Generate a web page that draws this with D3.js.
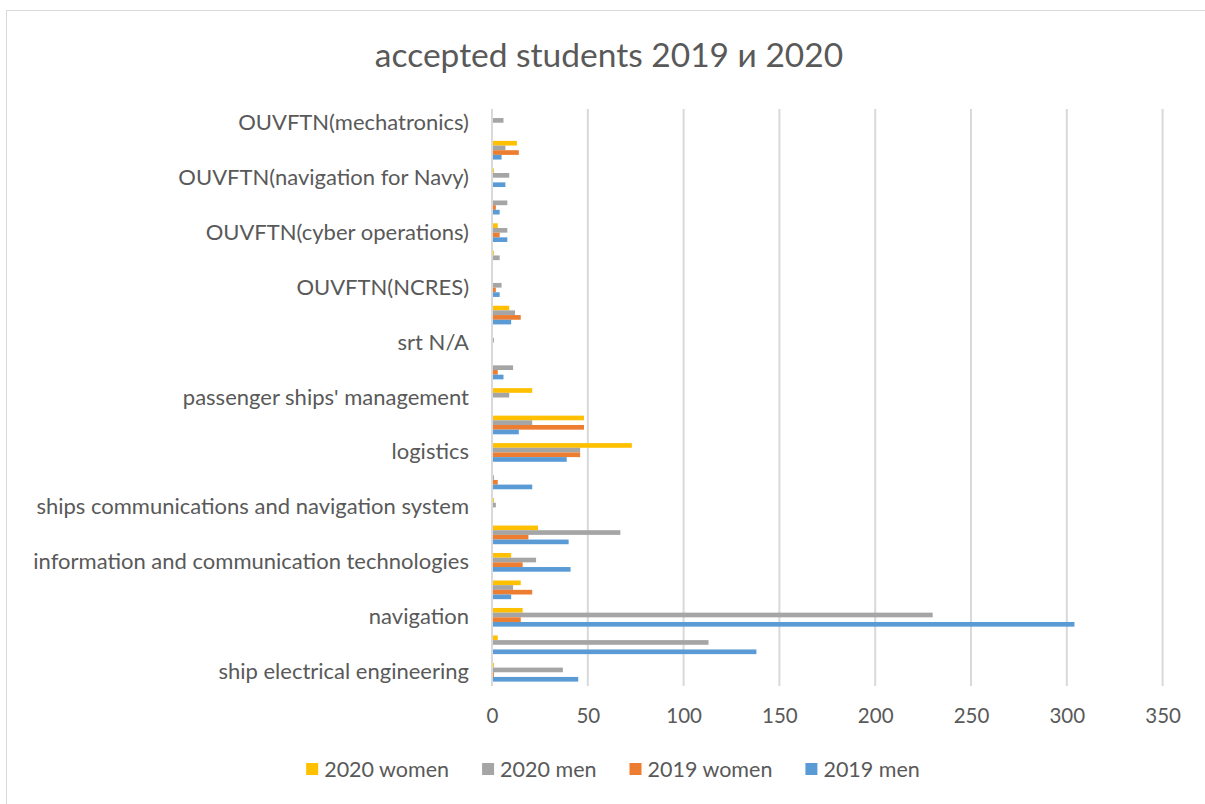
<!DOCTYPE html>
<html>
<head>
<meta charset="utf-8">
<script src="https://cdn.jsdelivr.net/npm/d3@7"></script>
<style>
    body { margin: 0; background: #fff; }
    svg text { font-family: Lato, "Open Sans", sans-serif; fill: #595959; }
</style>
</head>
<body>
<div id="chart"></div>
<script>

// categories from top to bottom (every second one has no label in the original)
const categories = [
    "OUVFTN(mechatronics)", "", "OUVFTN(navigation for Navy)", "", "OUVFTN(cyber operations) ", "",
    "OUVFTN(NCRES) ", "", "srt N/A", "", "passenger ships' management", "", "logistics", "",
    "ships communications and navigation system", "", "information and communication technologies", "",
    "navigation", "", "ship electrical engineering"
];

// series values, same order as categories
const women2020 = [0, 13, 1, 0, 3, 1, 0, 9, 0, 0, 21, 48, 73, 0, 1, 24, 10, 15, 16, 3, 1];
const men2020   = [6, 7, 9, 8, 8, 4, 5, 12, 1, 11, 9, 21, 46, 1, 2, 67, 23, 11, 230, 113, 37];
const women2019 = [0, 14, 0, 2, 4, 0, 2, 15, 0, 3, 0, 48, 46, 3, 0, 19, 16, 21, 15, 0, 1];
const men2019   = [0, 5, 7, 4, 8, 0, 4, 10, 0, 6, 0, 14, 39, 21, 0, 40, 41, 10, 304, 138, 45];

const seriesNames = ["2020 women", "2020 men", "2019 women", "2019 men"];
const seriesColors = ["#FFC000", "#A5A5A5", "#ED7D31", "#5B9BD5"];
const seriesValues = [women2020, men2020, women2019, men2019];

const xTicks = [0, 50, 100, 150, 200, 250, 300, 350];

const width = 1205, height = 804;
const margin = {top: 109, right: 42, bottom: 118, left: 492};
const innerW = width - margin.left - margin.right;
const innerH = height - margin.top - margin.bottom;

const svg = d3.select("#chart").append("svg")
    .attr("width", width)
    .attr("height", height);

// chart border
svg.append("rect")
    .attr("x", 6.5)
    .attr("y", 10.5)
    .attr("width", 1220)
    .attr("height", 820)
    .attr("fill", "none")
    .attr("stroke", "#D9D9D9");

// title
svg.append("text")
    .attr("x", 609)
    .attr("y", 67)
    .attr("text-anchor", "middle")
    .attr("font-size", 33.5)
    .text("accepted students 2019 и 2020");

const g = svg.append("g")
    .attr("transform", `translate(${margin.left}, ${margin.top})`);

// scales
const x = d3.scaleLinear()
    .domain([0, 350])
    .range([0, 670.6]);

const y = d3.scaleBand()
    .domain(d3.range(categories.length))
    .range([0, innerH]);

const inner = d3.scaleBand()
    .domain(d3.range(seriesNames.length))
    .range([y.bandwidth() * 0.16, y.bandwidth() * 0.84]);

// gridlines
g.selectAll(".grid")
    .data(xTicks)
    .enter()
    .append("line")
    .attr("class", "grid")
    .attr("x1", d => x(d))
    .attr("x2", d => x(d))
    .attr("y1", 0)
    .attr("y2", innerH)
    .attr("stroke", "#D9D9D9")
    .attr("stroke-width", 2);

// x labels
const xAxis = d3.axisBottom(x).tickValues(xTicks).tickSize(0).tickPadding(22);
g.append("g")
    .attr("transform", `translate(0, ${innerH})`)
    .call(xAxis)
    .call(a => a.select(".domain").remove())
    .selectAll("text")
    .attr("font-size", 20.5)
    .style("font-family", "Lato, sans-serif")
    .attr("fill", "#595959");

// y labels
const yAxis = d3.axisLeft(y).tickFormat(i => categories[i]).tickSize(0).tickPadding(23);
g.append("g")
    .call(yAxis)
    .call(a => a.select(".domain").remove())
    .selectAll("text")
    .attr("font-size", 22)
    .style("font-family", "Lato, sans-serif")
    .attr("fill", "#595959");

// bars
seriesValues.forEach((vals, s) => {
    g.selectAll(".bar" + s)
        .data(vals)
        .enter()
        .append("rect")
        .attr("class", "bar" + s)
        .attr("x", 1)
        .attr("y", (d, i) => y(i) + inner(s))
        .attr("width", d => d > 0 ? Math.max(0, x(d) - 1) : 0)
        .attr("height", inner.bandwidth())
        .attr("fill", seriesColors[s]);
});

// legend - entries placed one after another by their text width, centred
const legend = svg.append("g");
const items = legend.selectAll(".legendItem")
    .data(seriesNames)
    .enter()
    .append("g")
    .attr("class", "legendItem");

items.append("rect")
    .attr("y", 763)
    .attr("width", 12)
    .attr("height", 12)
    .attr("fill", (d, i) => seriesColors[i]);

items.append("text")
    .attr("x", 18)
    .attr("y", 777)
    .attr("font-size", 21.5)
    .text(d => d);

let pos = 0;
items.each(function() {
    const w = d3.select(this).select("text").node().getComputedTextLength();
    d3.select(this).attr("transform", `translate(${pos}, 0)`);
    pos += 18 + w + 33;
});
const total = pos - 33;
legend.attr("transform", `translate(${613 - total / 2}, 0)`);

</script>
</body>
</html>
